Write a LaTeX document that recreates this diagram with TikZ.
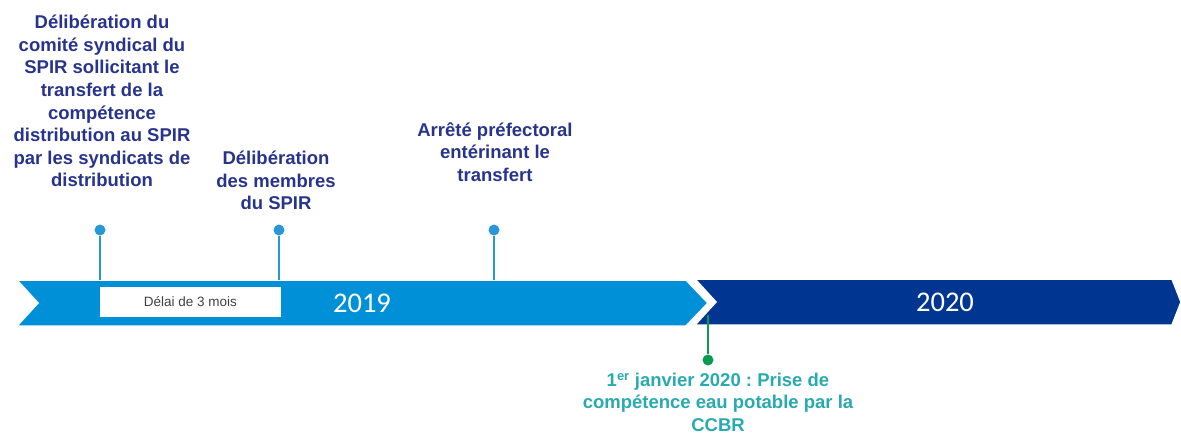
\documentclass[tikz,border=0pt]{standalone}
\usepackage{fontspec}
\setmainfont{Liberation Sans}
\newfontfamily\yearfont{Carlito}
\usepackage{tikz}
\frenchspacing
\definecolor{navytext}{RGB}{40,52,140}
\definecolor{skyband}{RGB}{0,144,216}
\definecolor{navyband}{RGB}{0,54,145}
\definecolor{ticklight}{RGB}{40,150,215}
\definecolor{tealtext}{RGB}{40,170,175}
\definecolor{greendot}{RGB}{10,155,80}
\tikzset{every node/.style={inner sep=0pt},
  eventtext/.style={anchor=north,align=center,text=navytext,
    font=\fontsize{18.5}{22.6}\selectfont\bfseries},
  eventdot/.style={circle,fill=ticklight,minimum size=11pt},
  tickline/.style={ticklight,line width=1.6pt},
  yearlabel/.style={text=white,font=\yearfont\fontsize{28.5}{30}\selectfont}}

\begin{document}
\begin{tikzpicture}[x=1pt,y=-1pt]
  \useasboundingbox (0,0) rectangle (1181,436);
  % the two year bands
  \fill[skyband,draw=white,line width=1.5pt]
    (17,280) -- (686,280) -- (708,303) -- (686,326) -- (17,326) -- (38,303) -- cycle;
  \fill[navyband,draw=white,line width=1.5pt]
    (695,279) -- (1172,279) -- (1181,302) -- (1172,325) -- (695,325) -- (716,302) -- cycle;
  \node[yearlabel] (y2019) at (362,303) {2019};
  \node[yearlabel] (y2020) at (945,302) {2020};
  \node[fill=white,minimum width=181pt,minimum height=30pt,
    font=\fontsize{13.5}{14}\selectfont,text=black!75] (delai) at (190.5,302) {Délai de 3 mois};
  % events above the band
  \foreach \name/\x in {ev1/100,ev2/279,ev3/494}{
    \coordinate (\name-foot) at (\x,280);
    \node[eventdot] (\name) at (\x,230) {};
    \draw[tickline] (\name) -- (\name-foot);
  }
  \node[eventtext] (t1) at (102,15) {Délibération du\\comité syndical du\\SPIR sollicitant le\\transfert de la\\compétence\\distribution au SPIR\\par les syndicats de\\distribution};
  \node[eventtext] (t2) at (276,151) {Délibération\\des membres\\du SPIR};
  \node[eventtext] (t3) at (495,122) {Arrêté préfectoral\\entérinant le\\transfert};
  % event below the band
  \coordinate (ev4-foot) at (708,315);
  \node[eventdot,fill=greendot] (ev4) at (708,360) {};
  \draw[greendot,line width=1.6pt] (ev4-foot) -- (ev4);
  \node[eventtext,text=tealtext,font=\fontsize{18.5}{22.2}\selectfont\bfseries]
    (t4) at (718,373) {1\textsuperscript{er} janvier 2020 : Prise de\\compétence eau potable par la\\CCBR};
\end{tikzpicture}
\end{document}
